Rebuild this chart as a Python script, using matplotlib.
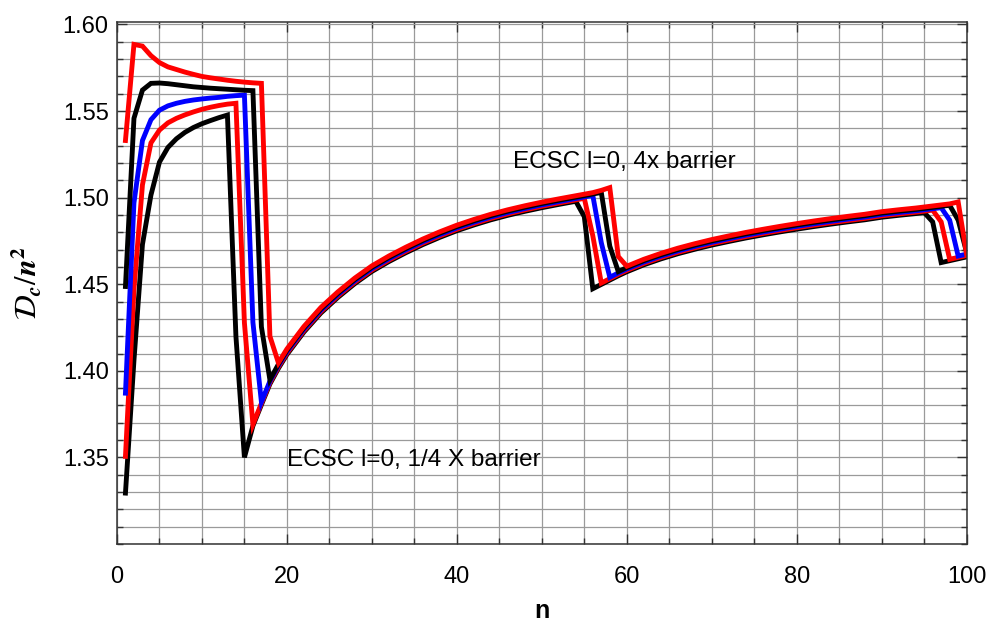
import matplotlib
matplotlib.use("Agg")
import matplotlib.pyplot as plt
from matplotlib.ticker import MultipleLocator, FixedLocator

plt.rcParams['font.family'] = ['Liberation Sans', 'DejaVu Sans']
plt.rcParams['mathtext.fontset'] = 'stix'

# shell size n, shared by all five runs
n = (list(range(1, 21)) + list(range(22, 53, 2)) + list(range(53, 61))
     + list(range(62, 95, 2)) + list(range(95, 101)))

# D_c / n^2 for each barrier height
dc_quarter = [1.3294, 1.406, 1.473, 1.5015, 1.5205, 1.5290, 1.5340, 1.5377, 1.5405, 1.5427,
              1.5445, 1.5462, 1.5477, 1.420, 1.350, 1.3682, 1.3804, 1.3924, 1.4014, 1.4094,
              1.4224, 1.4334, 1.4424, 1.4504, 1.4574, 1.4631, 1.4682, 1.4729, 1.4771, 1.4809,
              1.4842, 1.4872, 1.4898, 1.4921, 1.4942, 1.4961,
              1.4970, 1.4979, 1.489, 1.4474, 1.4499, 1.4524, 1.4549, 1.4572,
              1.4612, 1.4646, 1.4676, 1.4702, 1.4726, 1.4747, 1.4767, 1.4785, 1.4802, 1.4818,
              1.4833, 1.4847, 1.4860, 1.4872, 1.4887, 1.4898, 1.4908,
              1.4914, 1.486, 1.4625, 1.4636, 1.4647, 1.4658]

dc_half = [1.3506, 1.447, 1.5074, 1.5316, 1.539, 1.5432, 1.5458, 1.5478, 1.5495, 1.551,
           1.5522, 1.5532, 1.554, 1.5545, 1.4277, 1.369, 1.3812, 1.3932, 1.4022, 1.4102,
           1.4232, 1.4342, 1.4432, 1.4512, 1.4582, 1.4639, 1.4690, 1.4737, 1.4779, 1.4817,
           1.4850, 1.4880, 1.4906, 1.4929, 1.4950, 1.4969,
           1.4978, 1.4987, 1.4996, 1.478, 1.4507, 1.4532, 1.4557, 1.4580,
           1.4620, 1.4654, 1.4684, 1.4710, 1.4734, 1.4755, 1.4775, 1.4793, 1.4810, 1.4826,
           1.4841, 1.4855, 1.4868, 1.4880, 1.4895, 1.4906, 1.4916,
           1.4922, 1.4928, 1.486, 1.4644, 1.4655, 1.4666]

dc_one = [1.3871, 1.497, 1.533, 1.545, 1.5505, 1.553, 1.5545, 1.5556, 1.5564, 1.557,
          1.5575, 1.5579, 1.5585, 1.5589, 1.5592, 1.428, 1.382, 1.394, 1.403, 1.411,
          1.424, 1.435, 1.444, 1.452, 1.459, 1.4647, 1.4698, 1.4745, 1.4787, 1.4825,
          1.4858, 1.4888, 1.4914, 1.4937, 1.4958, 1.4977,
          1.4986, 1.4995, 1.5004, 1.5013, 1.474, 1.454, 1.4565, 1.4588,
          1.4628, 1.4662, 1.4692, 1.4718, 1.4742, 1.4763, 1.4783, 1.4801, 1.4818, 1.4834,
          1.4849, 1.4863, 1.4876, 1.4888, 1.4903, 1.4914, 1.4924,
          1.4930, 1.4936, 1.4942, 1.487, 1.4663, 1.4674]

dc_two = [1.4487, 1.5458, 1.5621, 1.566, 1.5662, 1.5658, 1.5652, 1.5646, 1.564, 1.5636,
          1.5632, 1.5629, 1.5626, 1.5623, 1.562, 1.5618, 1.4254, 1.3948, 1.4038, 1.4118,
          1.4248, 1.4358, 1.4448, 1.4528, 1.4598, 1.4655, 1.4706, 1.4753, 1.4795, 1.4833,
          1.4866, 1.4896, 1.4922, 1.4945, 1.4966, 1.4985,
          1.4994, 1.5003, 1.5012, 1.5021, 1.5030, 1.472, 1.4573, 1.4596,
          1.4636, 1.4670, 1.4700, 1.4726, 1.4750, 1.4771, 1.4791, 1.4809, 1.4826, 1.4842,
          1.4857, 1.4871, 1.4884, 1.4896, 1.4911, 1.4922, 1.4932,
          1.4938, 1.4944, 1.4950, 1.4956, 1.487, 1.4682]

dc_four = [1.533, 1.5885, 1.5875, 1.582, 1.578, 1.5755, 1.574, 1.5725, 1.5712, 1.570,
           1.5692, 1.5685, 1.5678, 1.5672, 1.5667, 1.5663, 1.566, 1.420, 1.4046, 1.4126,
           1.4256, 1.4366, 1.4456, 1.4536, 1.4606, 1.4663, 1.4714, 1.4761, 1.4803, 1.4841,
           1.4874, 1.4904, 1.4930, 1.4953, 1.4974, 1.4993,
           1.5002, 1.5011, 1.5020, 1.5029, 1.5042, 1.5058, 1.466, 1.4604,
           1.4644, 1.4678, 1.4708, 1.4734, 1.4758, 1.4779, 1.4799, 1.4817, 1.4834, 1.4850,
           1.4865, 1.4879, 1.4892, 1.4904, 1.4919, 1.4930, 1.4940,
           1.4946, 1.4952, 1.4958, 1.4964, 1.4975, 1.467]

runs = [(dc_quarter, 'black'), (dc_half, 'red'), (dc_one, 'blue'),
        (dc_two, 'black'), (dc_four, 'red')]

fig = plt.figure(figsize=(9.87, 6.24), dpi=100)
ax = fig.add_axes([0.1185, 0.1282, 0.8609, 0.8373])

for values, colour in runs:
    ax.plot(n, values, color=colour, linewidth=3.5, solid_joinstyle='miter')

ax.set_xlim(0, 100)
ax.set_ylim(1.30, 1.6017)

ax.xaxis.set_major_locator(MultipleLocator(20))
ax.xaxis.set_minor_locator(MultipleLocator(5))
ax.yaxis.set_major_locator(FixedLocator([1.35, 1.40, 1.45, 1.50, 1.55, 1.60]))
ax.yaxis.set_minor_locator(MultipleLocator(0.01))
ax.yaxis.set_major_formatter(plt.FormatStrFormatter('%.2f'))

ax.grid(True, which='both', color='#9a9a9a', linewidth=0.9)
ax.set_axisbelow(True)
ax.tick_params(which='both', direction='in', top=True, right=True,
               color='#333333', width=1)
ax.tick_params(which='major', length=7)
ax.tick_params(which='minor', length=4)
ax.tick_params(axis='x', which='major', labelsize=17, pad=16)
ax.tick_params(axis='y', which='major', labelsize=17, pad=6)
for spine in ax.spines.values():
    spine.set_color('#333333')
    spine.set_linewidth(1.1)

ax.set_xlabel('n', fontsize=18, fontweight='bold')
ax.xaxis.set_label_coords(0.5, -0.105)
ax.set_ylabel(r'$\mathbfit{\mathcal{D}}_{\mathbfit{c}}/\mathbfit{n}^{\mathbf{2}}$', fontsize=22)
ax.yaxis.set_label_coords(-0.085, 0.5)

ax.text(46.6, 1.5206, 'ECSC l=0, 4x barrier', fontsize=17.5, va='center', ha='left')
ax.text(20.0, 1.3487, 'ECSC l=0, 1/4 X barrier', fontsize=17.5, va='center', ha='left')

fig.savefig('out.png', dpi=100)
